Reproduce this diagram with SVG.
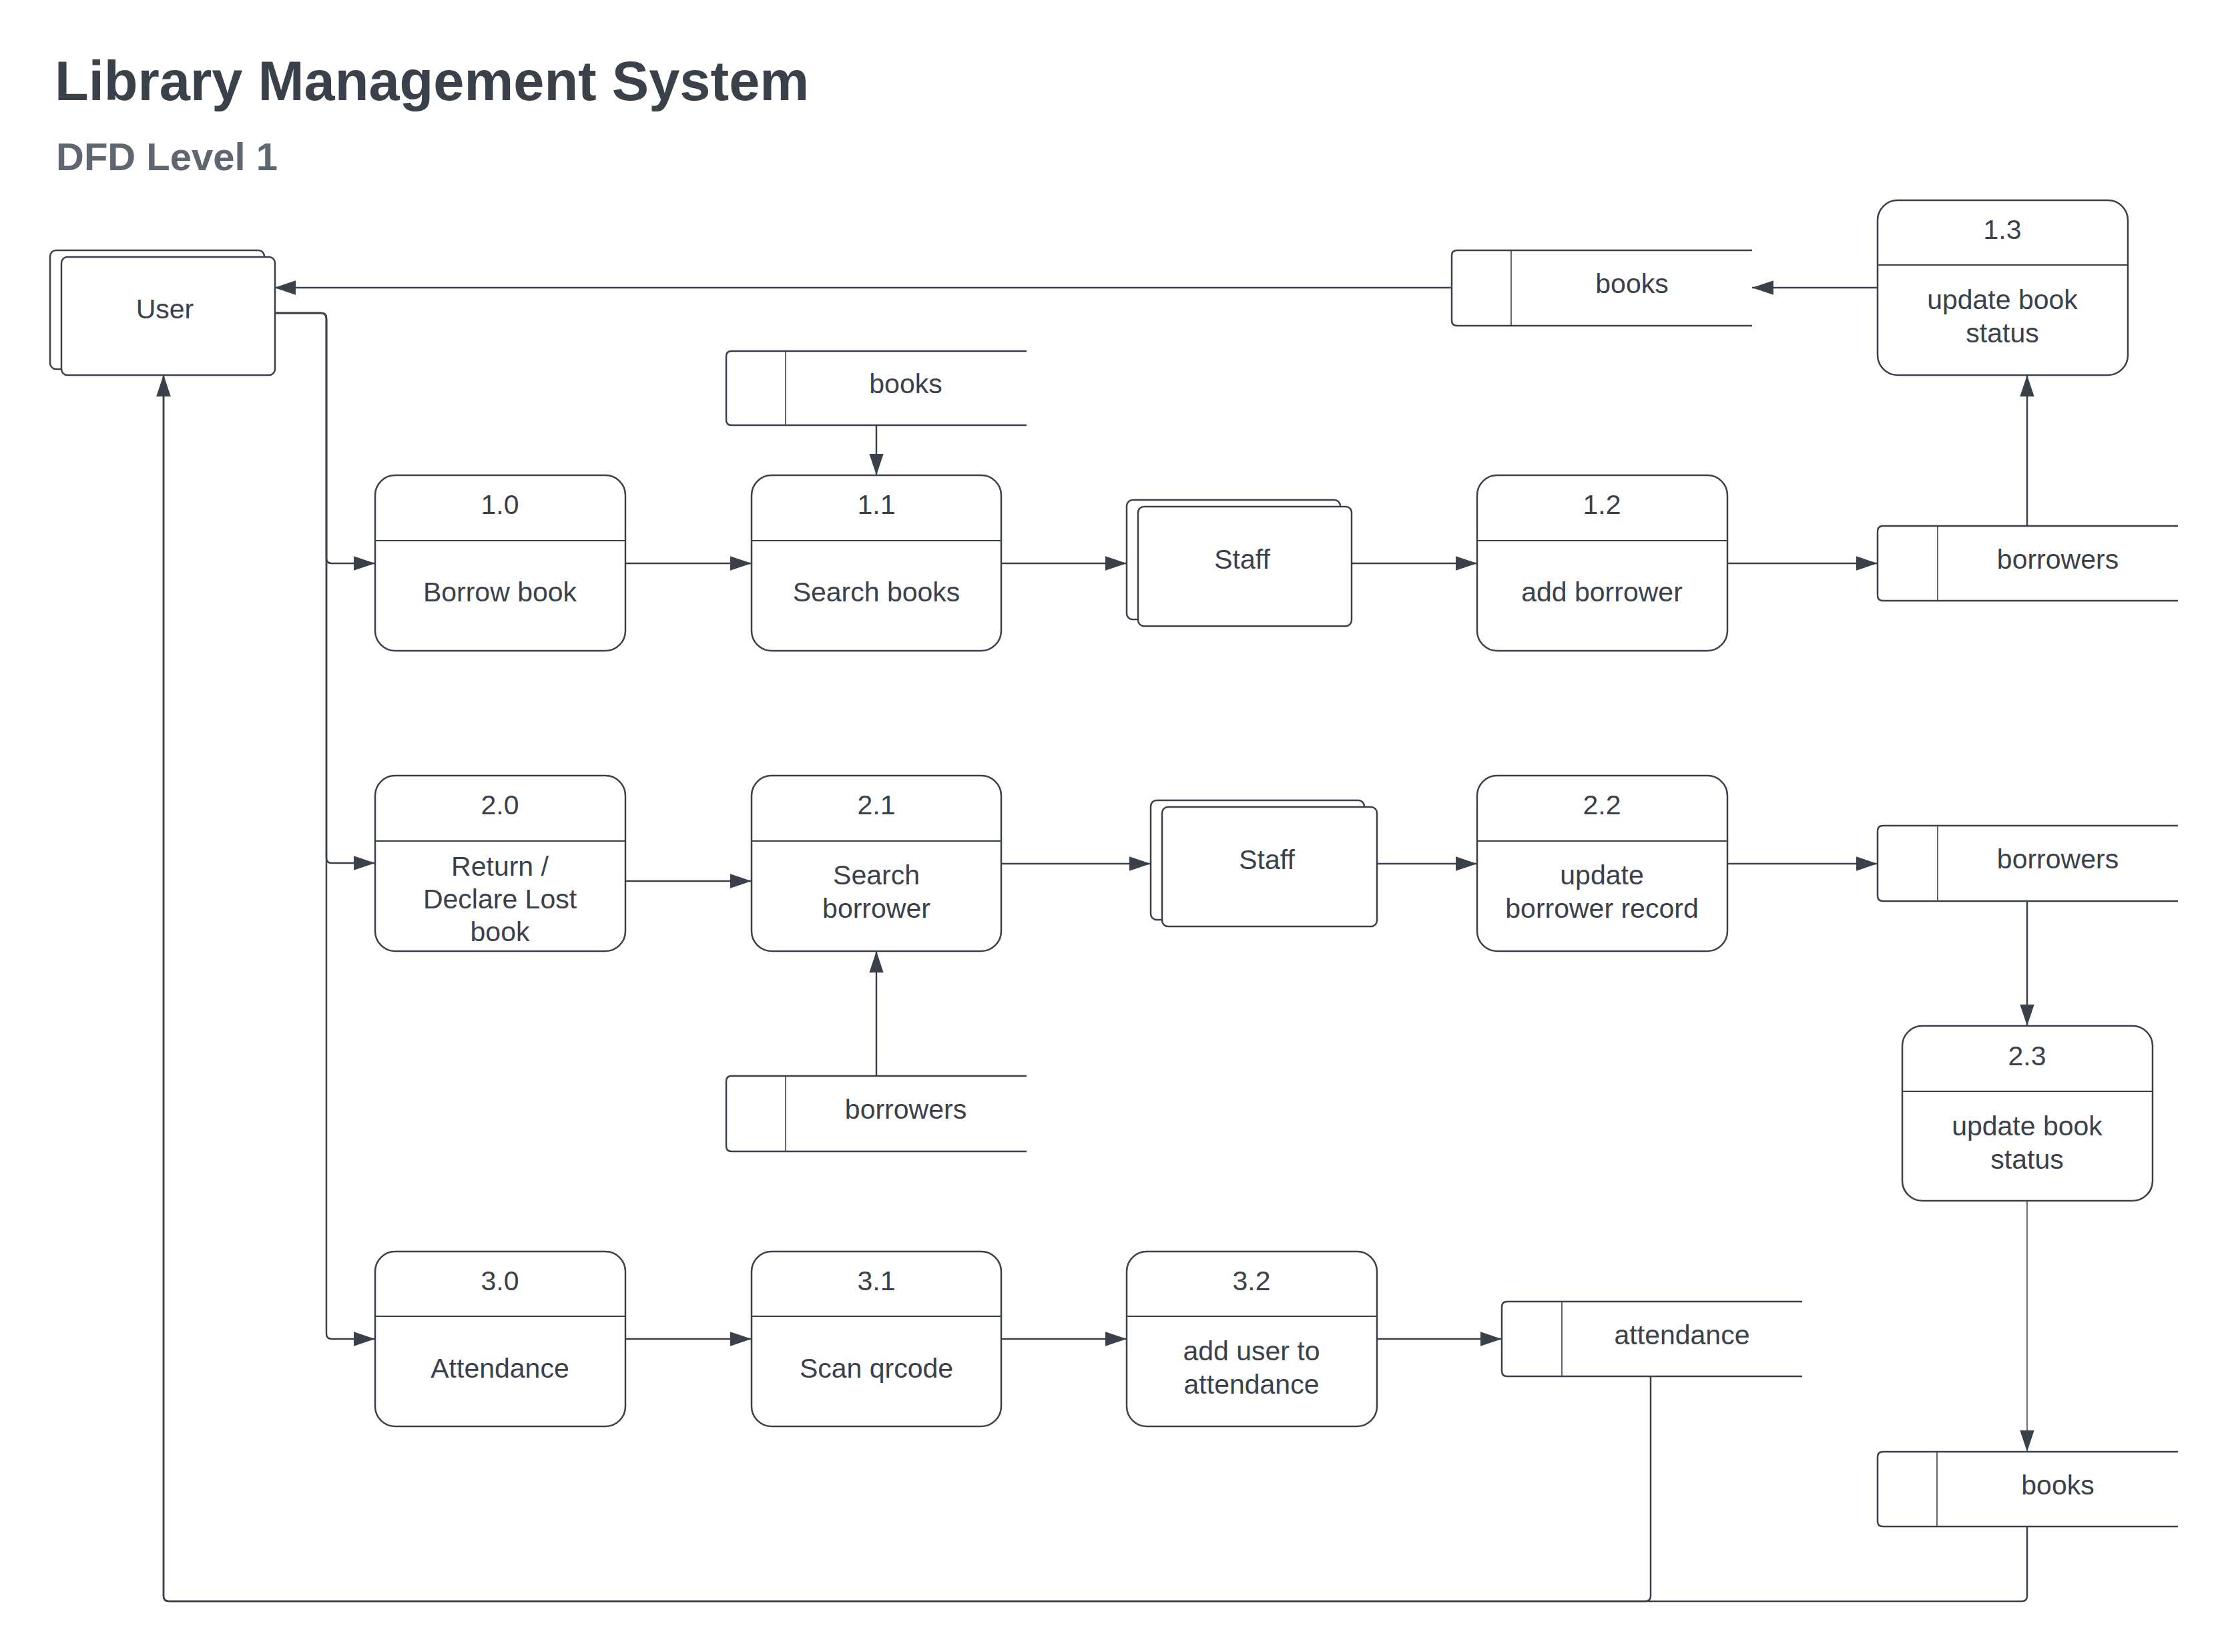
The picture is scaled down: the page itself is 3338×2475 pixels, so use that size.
<svg xmlns="http://www.w3.org/2000/svg" width="3338" height="2475" viewBox="0 0 3338 2475">
<style>
.bg{fill:#ffffff}
.box{fill:#ffffff;stroke:#3a414a;stroke-width:2.5}
.div{stroke:#3a414a;stroke-width:2.2;fill:none}
.sdiv{stroke:#3a414a;stroke-width:1.6;fill:none}
.store{fill:none;stroke:#3a414a;stroke-width:2.5}
.t{font-family:"Liberation Sans",Arial,sans-serif;font-size:41px;fill:#3a414a;text-anchor:middle}
.title{font-family:"Liberation Sans",Arial,sans-serif;font-size:83px;font-weight:bold;fill:#3a414a}
.sub{font-family:"Liberation Sans",Arial,sans-serif;font-size:58px;font-weight:bold;fill:#5e6670}
.c{fill:none;stroke:#3a414a;stroke-width:2.5}
.thin{fill:none;stroke:#3a414a;stroke-width:1.5}
</style>
<defs>
<marker id="ah" markerUnits="userSpaceOnUse" markerWidth="32" markerHeight="22" refX="30" refY="10" orient="auto" viewBox="0 0 30 20">
<path d="M0,0 L30,10 L0,20 Z" fill="#3a414a"/>
</marker>
</defs>
<rect class="bg" x="0" y="0" width="3338" height="2475"/>
<text class="title" x="82" y="150">Library Management System</text>
<text class="sub" x="84" y="255">DFD Level 1</text>

<g id="connectors">
<path class="c" d="M2175,431 H411" marker-end="url(#ah)"/>
<path class="c" d="M2813,431 H2625" marker-end="url(#ah)"/>
<path class="c" d="M3037,788 V562" marker-end="url(#ah)"/>
<path class="c" d="M411,469 H481 Q489,469 489,477 V836 Q489,844 497,844 H562" marker-end="url(#ah)"/>
<path class="c" d="M411,469 H481 Q489,469 489,477 V1285 Q489,1293 497,1293 H562" marker-end="url(#ah)"/>
<path class="c" d="M411,469 H481 Q489,469 489,477 V1998 Q489,2006 497,2006 H562" marker-end="url(#ah)"/>
<path class="c" d="M937,844 H1126" marker-end="url(#ah)"/>
<path class="c" d="M1313,637 V712" marker-end="url(#ah)"/>
<path class="c" d="M1500,844 H1688" marker-end="url(#ah)"/>
<path class="c" d="M2025,844 H2213" marker-end="url(#ah)"/>
<path class="c" d="M2588,844 H2813" marker-end="url(#ah)"/>
<path class="c" d="M937,1320 H1126" marker-end="url(#ah)"/>
<path class="c" d="M1313,1612 V1425" marker-end="url(#ah)"/>
<path class="c" d="M1500,1294 H1724" marker-end="url(#ah)"/>
<path class="c" d="M2063,1294 H2213" marker-end="url(#ah)"/>
<path class="c" d="M2588,1294 H2813" marker-end="url(#ah)"/>
<path class="c" d="M3037,1350 V1537" marker-end="url(#ah)"/>
<path class="thin" d="M3037,1799 V2175" marker-end="url(#ah)"/>
<path class="c" d="M937,2006 H1126" marker-end="url(#ah)"/>
<path class="c" d="M1500,2006 H1688" marker-end="url(#ah)"/>
<path class="c" d="M2063,2006 H2250" marker-end="url(#ah)"/>
<path class="c" d="M2473,2062 V2391 Q2473,2399 2465,2399 H253 Q245,2399 245,2391 V562" marker-end="url(#ah)"/>
<path class="c" d="M3037,2287 V2391 Q3037,2399 3029,2399 H253 Q245,2399 245,2391 V562" marker-end="url(#ah)"/>
</g>

<g id="user">
<rect class="box" x="75" y="375" width="321" height="178" rx="9"/>
<rect class="box" x="92" y="385" width="320" height="177" rx="9"/>
<text class="t" x="247" y="477">User</text>
</g>

<g id="store-books-top">
<path class="store" d="M2625,375 H2183 Q2175,375 2175,383 V480 Q2175,488 2183,488 H2625"/>
<line class="sdiv" x1="2264" y1="375" x2="2264" y2="488"/>
<text class="t" x="2445" y="439">books</text>
</g>

<g id="p13">
<rect class="box" x="2813" y="300" width="375" height="262" rx="30"/>
<line class="div" x1="2813" y1="397" x2="3188" y2="397"/>
<text class="t" x="3000" y="358">1.3</text>
<text class="t" x="3000" y="463">update book</text>
<text class="t" x="3000" y="513">status</text>
</g>

<g id="store-books-mid">
<path class="store" d="M1538,526 H1096 Q1088,526 1088,534 V629 Q1088,637 1096,637 H1538"/>
<line class="sdiv" x1="1177" y1="526" x2="1177" y2="637"/>
<text class="t" x="1357" y="589">books</text>
</g>

<g id="p10">
<rect class="box" x="562" y="712" width="375" height="263" rx="30"/>
<line class="div" x1="562" y1="810" x2="937" y2="810"/>
<text class="t" x="749" y="770">1.0</text>
<text class="t" x="749" y="901">Borrow book</text>
</g>

<g id="p11">
<rect class="box" x="1126" y="712" width="374" height="263" rx="30"/>
<line class="div" x1="1126" y1="810" x2="1500" y2="810"/>
<text class="t" x="1313" y="770">1.1</text>
<text class="t" x="1313" y="901">Search books</text>
</g>

<g id="staff1">
<rect class="box" x="1688" y="749" width="320" height="179" rx="9"/>
<rect class="box" x="1705" y="759" width="320" height="179" rx="9"/>
<text class="t" x="1861" y="852">Staff</text>
</g>

<g id="p12">
<rect class="box" x="2213" y="712" width="375" height="263" rx="30"/>
<line class="div" x1="2213" y1="810" x2="2588" y2="810"/>
<text class="t" x="2400" y="770">1.2</text>
<text class="t" x="2400" y="901">add borrower</text>
</g>

<g id="store-borrowers-1">
<path class="store" d="M3263,788 H2821 Q2813,788 2813,796 V892 Q2813,900 2821,900 H3263"/>
<line class="sdiv" x1="2903" y1="788" x2="2903" y2="900"/>
<text class="t" x="3083" y="852">borrowers</text>
</g>

<g id="p20">
<rect class="box" x="562" y="1162" width="375" height="263" rx="30"/>
<line class="div" x1="562" y1="1260" x2="937" y2="1260"/>
<text class="t" x="749" y="1220">2.0</text>
<text class="t" x="749" y="1312">Return /</text>
<text class="t" x="749" y="1361">Declare Lost</text>
<text class="t" x="749" y="1410">book</text>
</g>

<g id="p21">
<rect class="box" x="1126" y="1162" width="374" height="263" rx="30"/>
<line class="div" x1="1126" y1="1260" x2="1500" y2="1260"/>
<text class="t" x="1313" y="1220">2.1</text>
<text class="t" x="1313" y="1325">Search</text>
<text class="t" x="1313" y="1375">borrower</text>
</g>

<g id="staff2">
<rect class="box" x="1724" y="1199" width="320" height="179" rx="9"/>
<rect class="box" x="1741" y="1209" width="322" height="179" rx="9"/>
<text class="t" x="1898" y="1302">Staff</text>
</g>

<g id="p22">
<rect class="box" x="2213" y="1162" width="375" height="263" rx="30"/>
<line class="div" x1="2213" y1="1260" x2="2588" y2="1260"/>
<text class="t" x="2400" y="1220">2.2</text>
<text class="t" x="2400" y="1325">update</text>
<text class="t" x="2400" y="1375">borrower record</text>
</g>

<g id="store-borrowers-2">
<path class="store" d="M3263,1237 H2821 Q2813,1237 2813,1245 V1342 Q2813,1350 2821,1350 H3263"/>
<line class="sdiv" x1="2903" y1="1237" x2="2903" y2="1350"/>
<text class="t" x="3083" y="1301">borrowers</text>
</g>

<g id="store-borrowers-mid">
<path class="store" d="M1538,1612 H1096 Q1088,1612 1088,1620 V1717 Q1088,1725 1096,1725 H1538"/>
<line class="sdiv" x1="1177" y1="1612" x2="1177" y2="1725"/>
<text class="t" x="1357" y="1676">borrowers</text>
</g>

<g id="p23">
<rect class="box" x="2850" y="1537" width="375" height="262" rx="30"/>
<line class="div" x1="2850" y1="1635" x2="3225" y2="1635"/>
<text class="t" x="3037" y="1596">2.3</text>
<text class="t" x="3037" y="1701">update book</text>
<text class="t" x="3037" y="1751">status</text>
</g>

<g id="p30">
<rect class="box" x="562" y="1875" width="375" height="262" rx="30"/>
<line class="div" x1="562" y1="1972" x2="937" y2="1972"/>
<text class="t" x="749" y="1933">3.0</text>
<text class="t" x="749" y="2064">Attendance</text>
</g>

<g id="p31">
<rect class="box" x="1126" y="1875" width="374" height="262" rx="30"/>
<line class="div" x1="1126" y1="1972" x2="1500" y2="1972"/>
<text class="t" x="1313" y="1933">3.1</text>
<text class="t" x="1313" y="2064">Scan qrcode</text>
</g>

<g id="p32">
<rect class="box" x="1688" y="1875" width="375" height="262" rx="30"/>
<line class="div" x1="1688" y1="1972" x2="2063" y2="1972"/>
<text class="t" x="1875" y="1933">3.2</text>
<text class="t" x="1875" y="2038">add user to</text>
<text class="t" x="1875" y="2088">attendance</text>
</g>

<g id="store-attendance">
<path class="store" d="M2700,1950 H2258 Q2250,1950 2250,1958 V2054 Q2250,2062 2258,2062 H2700"/>
<line class="sdiv" x1="2340" y1="1950" x2="2340" y2="2062"/>
<text class="t" x="2520" y="2014">attendance</text>
</g>

<g id="store-books-bottom">
<path class="store" d="M3263,2175 H2821 Q2813,2175 2813,2183 V2279 Q2813,2287 2821,2287 H3263"/>
<line class="sdiv" x1="2902" y1="2175" x2="2902" y2="2287"/>
<text class="t" x="3083" y="2239">books</text>
</g>
</svg>
